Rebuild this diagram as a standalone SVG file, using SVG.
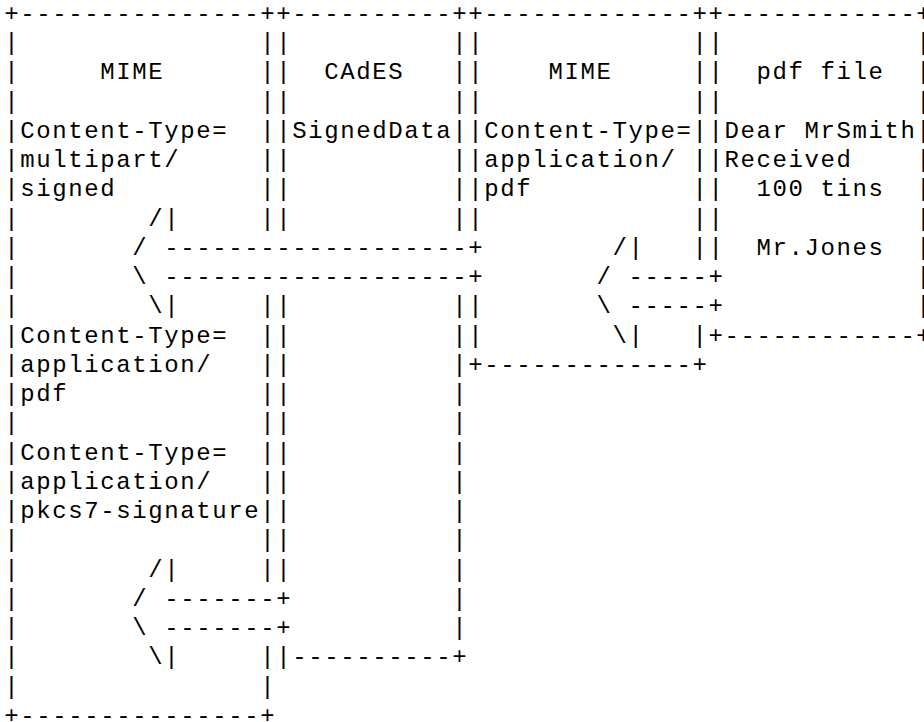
<svg xmlns="http://www.w3.org/2000/svg" width="924" height="722" viewBox="0 0 924 722" xml:space="preserve">
<style>
  .bg { fill: #ffffff; }
  .t { font-family: "Liberation Mono", "DejaVu Sans Mono", monospace; font-size: 24px; letter-spacing: 1.6px; fill: #000000; white-space: pre; }
</style>
<rect class="bg" x="0" y="0" width="924" height="722"/>
<g id="ascii-art">
<text class="t" x="4.3" y="21">+---------------++----------++-------------++------------</text>
<text class="t" x="4.3" y="50.24">|               ||          ||             ||</text>
<text class="t" x="4.3" y="79.48">|     MIME      ||  CAdES   ||    MIME     ||  pdf file</text>
<text class="t" x="4.3" y="108.72">|               ||          ||             ||</text>
<text class="t" x="4.3" y="137.96">|Content-Type=  ||SignedData||Content-Type=||Dear MrSmith</text>
<text class="t" x="4.3" y="167.2">|multipart/     ||          ||application/ ||Received</text>
<text class="t" x="4.3" y="196.44">|signed         ||          ||pdf          ||  100 tins</text>
<text class="t" x="4.3" y="225.68">|        /|     ||          ||             ||</text>
<text class="t" x="4.3" y="254.92">|       / -------------------+        /|   ||  Mr.Jones</text>
<text class="t" x="4.3" y="284.16">|       \ -------------------+       / -----+</text>
<text class="t" x="4.3" y="313.4">|        \|     ||          ||       \ -----+</text>
<text class="t" x="4.3" y="342.64">|Content-Type=  ||          ||        \|   |+------------</text>
<text class="t" x="4.3" y="371.88">|application/   ||          |+-------------+</text>
<text class="t" x="4.3" y="401.12">|pdf            ||          |</text>
<text class="t" x="4.3" y="430.36">|               ||          |</text>
<text class="t" x="4.3" y="459.6">|Content-Type=  ||          |</text>
<text class="t" x="4.3" y="488.84">|application/   ||          |</text>
<text class="t" x="4.3" y="518.08">|pkcs7-signature||          |</text>
<text class="t" x="4.3" y="547.32">|               ||          |</text>
<text class="t" x="4.3" y="576.56">|        /|     ||          |</text>
<text class="t" x="4.3" y="605.8">|       / -------+          |</text>
<text class="t" x="4.3" y="635.04">|       \ -------+          |</text>
<text class="t" x="4.3" y="664.28">|        \|     ||----------+</text>
<text class="t" x="4.3" y="693.52">|               |</text>
<text class="t" x="4.3" y="722.76">+---------------+</text>
</g>
<g id="right-edge">
<text class="t" x="916.3" y="21">+</text>
<text class="t" x="916.3" y="50.24">|</text>
<text class="t" x="916.3" y="79.48">|</text>
<text class="t" x="916.3" y="108.72">|</text>
<text class="t" x="916.3" y="137.96">|</text>
<text class="t" x="916.3" y="167.2">|</text>
<text class="t" x="916.3" y="196.44">|</text>
<text class="t" x="916.3" y="225.68">|</text>
<text class="t" x="916.3" y="254.92">|</text>
<text class="t" x="916.3" y="284.16">|</text>
<text class="t" x="916.3" y="313.4">|</text>
<text class="t" x="916.3" y="342.64">+</text>
</g>
</svg>
